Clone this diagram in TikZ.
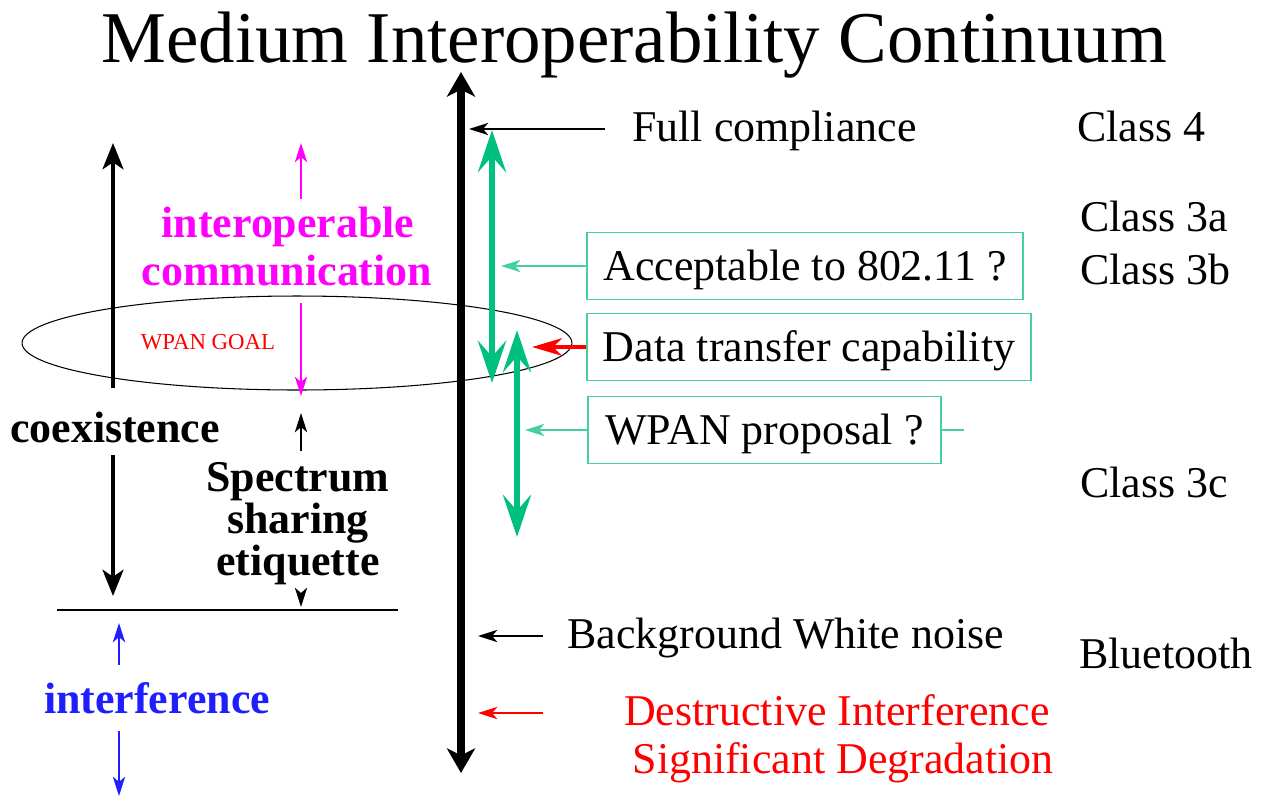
\documentclass[tikz,border=0pt]{standalone}
\usepackage{fontspec}
\setmainfont{Liberation Serif}
\usetikzlibrary{arrows.meta,shapes.geometric}

\definecolor{rangegreen}{RGB}{0,192,128}
\definecolor{boxgreen}{RGB}{70,208,160}
\definecolor{commpink}{RGB}{255,0,255}
\definecolor{intblue}{RGB}{30,30,255}
\definecolor{degred}{RGB}{255,0,0}

\begin{document}
\begin{tikzpicture}[x=0.02cm,y=-0.02cm,
    big text/.style={font=\fontsize{25}{30}\selectfont, inner sep=0pt},
    bold text/.style={font=\fontsize{25}{30}\selectfont\bfseries, inner sep=0pt},
    class node/.style={big text, anchor=base west},
    choice box/.style={draw=boxgreen, line width=1.1pt, big text, minimum height=1.34cm,
        text height=23pt, text depth=6pt},
    axis arrow/.style={{Stealth[length=14pt,width=16pt,inset=4pt]}-{Stealth[length=14pt,width=16pt,inset=4pt]}, line width=4.5pt},
    range arrow/.style={{Stealth[length=24pt,width=16pt,inset=9pt]}-{Stealth[length=24pt,width=16pt,inset=9pt]}, line width=3.4pt, rangegreen},
    side arrow/.style={-{Stealth[length=15pt,width=12pt,inset=4pt]}, line width=1.8pt},
    thin arrow/.style={-{Stealth[length=11pt,width=7pt,inset=3pt]}, line width=0.8pt}]

    \useasboundingbox (0,0) rectangle (1262,796);

    \node[font=\fontsize{41.5}{50}\selectfont, anchor=base, inner sep=0pt] (title) at (634,62) {Medium Interoperability Continuum};

    % WPAN goal ellipse
    \node[ellipse, draw, line width=0.6pt, minimum width=11cm, minimum height=1.88cm, inner sep=0pt] (goal) at (297,343) {};
    \node[font=\fontsize{13}{15}\selectfont, text=degred, inner sep=0pt, anchor=base] (goaltext) at (208,349) {WPAN GOAL};

    % left side labels
    \node[bold text, text=commpink, anchor=base] (inter) at (288,237) {interoperable};
    \node[bold text, text=commpink, anchor=base] (comm) at (287,285) {communication};
    \node[bold text, anchor=base] (coex) at (115,442) {coexistence};
    \node[bold text, anchor=base] (spec1) at (298,491) {Spectrum};
    \node[bold text, anchor=base] (spec2) at (298,533) {sharing};
    \node[bold text, anchor=base] (spec3) at (298,575) {etiquette};
    \node[bold text, text=intblue, anchor=base] (interf) at (157,713) {interference};

    \coordinate (lineL) at (57,610);
    \coordinate (lineR) at (398,610);
    \draw[line width=0.8pt] (lineL) -- (lineR);

    \draw[side arrow] (113,388) -- (113,143);
    \draw[side arrow] (113,455) -- (113,596);
    \draw[thin arrow, commpink] (301,199) -- (301,143);
    \draw[thin arrow, commpink] (301,303) -- (301,396);
    \draw[thin arrow] (301,451) -- (301,413);
    \draw[thin arrow] (301,593) -- (301,607);
    \draw[thin arrow, intblue] (119,665) -- (119,623);
    \draw[thin arrow, intblue] (119,731) -- (119,796);

    % main axis and ranges
    \coordinate (top) at (461,72);
    \coordinate (bot) at (461,773);
    \draw[axis arrow] (bot) -- (top);

    \coordinate (g1a) at (492,130);
    \coordinate (g1b) at (492,383);
    \coordinate (g2a) at (517,330);
    \coordinate (g2b) at (517,537);
    \draw[range arrow] (g1a) -- (g1b);
    \draw[range arrow] (g2a) -- (g2b);

    % right side
    \node[class node] (full) at (632,141) {Full compliance};
    \node[choice box, minimum width=8.72cm] (acc) at (805,266) {Acceptable to 802.11 ?};
    \node[choice box, minimum width=8.88cm] (data) at (809,347) {Data transfer capability};
    \node[choice box, minimum width=7.06cm] (wpan) at (764.5,430) {WPAN proposal ?};
    \node[class node] (noise) at (567,648) {Background White noise};
    \node[big text, text=degred, anchor=base] (destr) at (837,725) {Destructive Interference};
    \node[big text, text=degred, anchor=base] (signif) at (843,773) {Significant Degradation};

    \node[class node] (c4) at (1077,141) {Class 4};
    \node[class node] (c3a) at (1080,231) {Class 3a};
    \node[class node] (c3b) at (1080,284) {Class 3b};
    \node[class node] (c3c) at (1080,497) {Class 3c};
    \node[class node] (bt) at (1079,668) {Bluetooth};

    \coordinate (fcs) at (605,129);
    \coordinate (fct) at (469,129);
    \draw[thin arrow] (fcs) -- (fct);
    \draw[thin arrow, boxgreen, line width=1.1pt] (acc.west) -- ++(-85,0);
    \draw[-{Stealth[length=17pt,width=10pt,inset=5pt]}, line width=1.8pt, degred] (data.west) -- ++(-54,0);
    \draw[thin arrow, boxgreen, line width=1.1pt] (wpan.west) -- ++(-62,0);
    \draw[boxgreen, line width=1.1pt] (wpan.east) -- ++(22,0);

    \coordinate (bgs) at (543,636);
    \coordinate (bgt) at (478,636);
    \coordinate (dis) at (543,713);
    \coordinate (dit) at (478,713);
    \draw[thin arrow] (bgs) -- (bgt);
    \draw[thin arrow, degred] (dis) -- (dit);
\end{tikzpicture}
\end{document}
